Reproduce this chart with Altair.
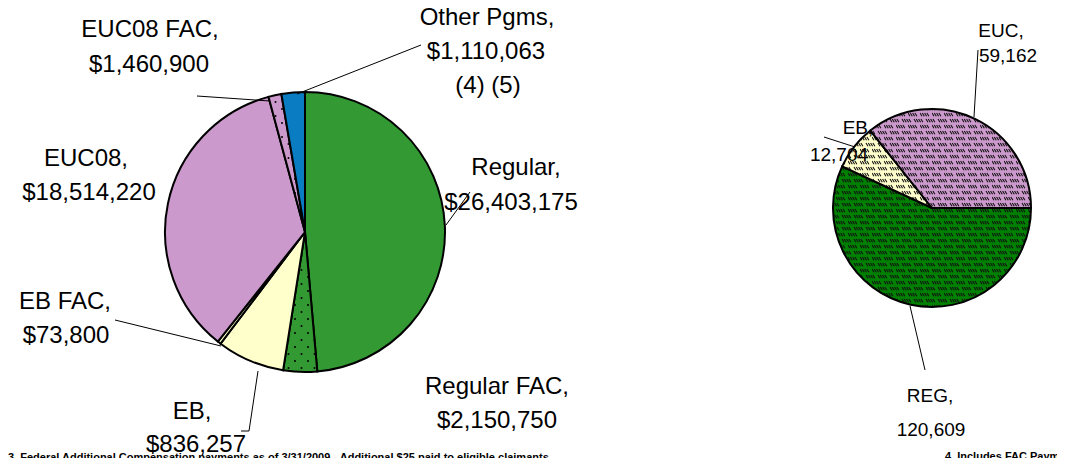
import math
import jinja2
import pandas as pd
import altair as alt

# ---------------- data ----------------
# Left pie: UI benefit payments by program (slice shares read from the drawn angles, %)
left_programs = ["Regular", "Regular FAC", "EB", "EB FAC", "EUC08", "EUC08 FAC", "Other Pgms"]
left_amounts = ["$26,403,175", "$2,150,750", "$836,257", "$73,800", "$18,514,220", "$1,460,900", "$1,110,063"]
left_share = [48.6, 3.9, 7.8, 0.4, 35.1, 1.5, 2.7]

right_programs = ["REG", "EB", "EUC"]
right_amounts = ["120,609", "12,704", "59,162"]
right_share = [56.9, 7.4, 35.7]

footnote_left = "3. Federal Additional Compensation payments as of 3/31/2009 - Additional $25 paid to eligible claimants"
footnote_right = "4. Includes FAC Payments"

# ---------------- styles / layout ----------------
left_fill = ["#339933", "url(#dotG)", "#FFFFCC", "#FFFFCC", "#CC99CC", "url(#dotL)", "#0A7CC1"]
right_fill = ["url(#hatchG)", "url(#hatchY)", "url(#hatchL)"]

OX, OY = 8, 8  # page margin -> chart origin
LC = (305 - OX, 232 - OY)
RC = (932 - OX, 208 - OY)

left_label_pos = [  # (program index, line text, x, y) page coords
    (0, "Regular,", 516, 168), (0, left_amounts[0], 511, 203),
    (1, "Regular FAC,", 497, 387), (1, left_amounts[1], 497, 421),
    (2, "EB,", 192, 412), (2, left_amounts[2], 196, 445),
    (3, "EB FAC,", 65, 302), (3, left_amounts[3], 66, 336),
    (4, "EUC08,", 86, 159), (4, left_amounts[4], 89, 193),
    (5, "EUC08 FAC,", 150, 30), (5, left_amounts[5], 149, 65),
    (6, "Other Pgms,", 487, 18), (6, left_amounts[6], 486, 52), (6, "(4) (5)", 488, 86),
]
right_label_pos = [
    (0, "REG,", 930, 396), (0, right_amounts[0], 931, 430),
    (1, "EB,", 858, 128), (1, right_amounts[1], 839, 155),
    (2, "EUC,", 1001, 31), (2, right_amounts[2], 1008, 56),
]
leader_lines = [  # x, y, x2, y2 (page coords)
    (297, 94, 421, 45),
    (197, 96, 270, 101),
    (446, 225, 470, 192),
    (115, 320, 221, 346),
    (241, 431, 249, 431), (249, 431, 258, 371),
    (974, 117, 978, 50),
    (824, 137, 855, 147),
    (910, 306, 925, 370),
]

left_df = pd.DataFrame({"program": left_programs, "share": left_share,
                        "fill": left_fill, "idx": range(len(left_programs))})
right_df = pd.DataFrame({"program": right_programs, "share": right_share,
                         "fill": right_fill, "idx": range(len(right_programs))})

lt_df = pd.DataFrame([{"text": t, "x": x - OX, "y": y - OY} for _, t, x, y in left_label_pos])
rt_df = pd.DataFrame([{"text": t, "x": x - OX, "y": y - OY} for _, t, x, y in right_label_pos])
ln_df = pd.DataFrame([{"x": a - OX, "y": b - OY, "x2": c - OX, "y2": d - OY} for a, b, c, d in leader_lines])
fn_df = pd.DataFrame([{"text": footnote_left, "x": 8 - OX, "y": 461 - OY},
                      {"text": footnote_right, "x": 945 - OX, "y": 460 - OY}])

FONT = "Liberation Sans"

left_pie = alt.Chart(left_df).mark_arc(radius=140, stroke="black", strokeWidth=2).encode(
    theta=alt.Theta("share:Q", stack=True, scale=alt.Scale(domain=[0, 100], range=[0, 2 * math.pi])),
    order=alt.Order("idx:Q"),
    fill=alt.Fill("fill:N", scale=None),
    x=alt.value(LC[0]), y=alt.value(LC[1]),
)
right_pie = alt.Chart(right_df).mark_arc(radius=99, stroke="black", strokeWidth=2).encode(
    theta=alt.Theta("share:Q", stack=True,
                    scale=alt.Scale(domain=[0, 100], range=[math.pi / 2, math.pi / 2 + 2 * math.pi])),
    order=alt.Order("idx:Q"),
    fill=alt.Fill("fill:N", scale=None),
    x=alt.value(RC[0]), y=alt.value(RC[1]),
)
lines = alt.Chart(ln_df).mark_rule(color="black", strokeWidth=1).encode(
    x=alt.X("x:Q", scale=None, axis=None), y=alt.Y("y:Q", scale=None, axis=None),
    x2="x2:Q", y2="y2:Q",
)
left_text = alt.Chart(lt_df).mark_text(font=FONT, fontSize=24, align="center", baseline="middle",
                                       color="black").encode(
    x=alt.X("x:Q", scale=None, axis=None), y=alt.Y("y:Q", scale=None, axis=None), text="text:N")
right_text = alt.Chart(rt_df).mark_text(font=FONT, fontSize=19, align="center", baseline="middle",
                                        color="black").encode(
    x=alt.X("x:Q", scale=None, axis=None), y=alt.Y("y:Q", scale=None, axis=None), text="text:N")
foot = alt.Chart(fn_df).mark_text(font=FONT, fontSize=11, fontWeight="bold", align="left",
                                  baseline="alphabetic", color="black").encode(
    x=alt.X("x:Q", scale=None, axis=None), y=alt.Y("y:Q", scale=None, axis=None), text="text:N")

chart = alt.layer(left_pie, right_pie, lines, left_text, right_text, foot).resolve_scale(
    theta="independent"
).properties(
    width=1057, height=450, padding=0, autosize="none", background="white"
).configure_view(stroke=None)

PATTERNS = """
<svg width="0" height="0" style="position:absolute;left:0;top:0">
 <defs>
  <pattern id="dotG" patternUnits="userSpaceOnUse" width="13" height="14">
   <rect width="13" height="14" fill="#339933"/>
   <circle cx="3" cy="3" r="1" fill="#000"/><circle cx="9.5" cy="10" r="1" fill="#000"/>
  </pattern>
  <pattern id="dotL" patternUnits="userSpaceOnUse" width="13" height="14">
   <rect width="13" height="14" fill="#CC99CC"/>
   <circle cx="3" cy="3" r="1" fill="#000"/><circle cx="9.5" cy="10" r="1" fill="#000"/>
  </pattern>
  {% for pid, col in [("hatchG", "#008000"), ("hatchY", "#FFFFCC"), ("hatchL", "#CC99CC")] %}
  <pattern id="{{ pid }}" patternUnits="userSpaceOnUse" width="12" height="12">
   <rect width="12" height="12" fill="{{ col }}"/>
   <path d="M0,1 l2,3.2 M2.3,1 l2,3.2 M4.6,1 l2,3.2 M6.9,1 l2,3.2
            M6,7 l2,3.2 M8.3,7 l2,3.2 M10.6,7 l2,3.2 M-1.4,7 l2,3.2 M0.9,7 l2,3.2"
         stroke="#111" stroke-width="1.1" fill="none"/>
  </pattern>
  {% endfor %}
 </defs>
</svg>
"""

TEMPLATE = jinja2.Template("""<!DOCTYPE html>
<html>
<head>
<meta charset="utf-8">
<style>
 body { overflow: hidden; }
</style>
<script type="text/javascript" src="{{ base_url }}/vega@{{ vega_version }}"></script>
<script type="text/javascript" src="{{ base_url }}/vega-lite@{{ vegalite_version }}"></script>
<script type="text/javascript" src="{{ base_url }}/vega-embed@{{ vegaembed_version }}"></script>
</head>
<body>
""" + PATTERNS + """
<div id="{{ output_div }}"></div>
<script type="text/javascript">
(function(vegaEmbed) {
  var spec = {{ spec }};
  var embedOpt = {{ embed_options }};
  if (!embedOpt.mode) { embedOpt.mode = "{{ mode }}"; }
  vegaEmbed("#{{ output_div }}", spec, embedOpt).catch(function(err) {
    document.getElementById("{{ output_div }}").innerHTML = "<pre>" + err + "</pre>";
  });
})(vegaEmbed);
</script>
</body>
</html>
""")

chart.save("out.html", embed_options={"renderer": "svg", "actions": False}, template=TEMPLATE)
